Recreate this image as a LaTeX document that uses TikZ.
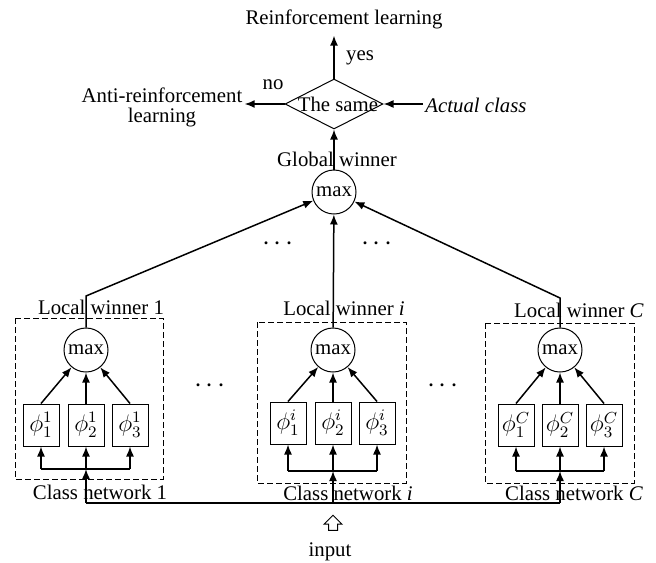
\documentclass[tikz,border=0pt]{standalone}
\usepackage{fontspec}
\setmainfont{Liberation Serif}
\usetikzlibrary{arrows.meta,shapes.geometric,shapes.arrows}
\newcommand\hdotsrow{{\Large$\cdot$\hspace{1.75pt}$\cdot$\hspace{1.75pt}$\cdot$}}
\newcommand\phin[2]{{\fontsize{12}{12}\selectfont$\phi_{#1}^{#2}$}}

\begin{document}
\begin{tikzpicture}[x=0.5pt,y=-0.5pt]
\tikzset{font=\fontsize{10.4}{10}\selectfont}
\tikzset{vertex/.style = {shape=circle,draw,line width=0.5pt,minimum size=22pt,inner sep=0pt}}
\tikzset{phibox/.style = {shape=rectangle,draw,line width=0.5pt,minimum width=18pt,minimum height=21pt,inner sep=0pt}}
\tikzset{decision/.style = {shape=diamond,draw,line width=0.5pt,minimum width=49pt,minimum height=25pt,inner sep=0pt}}
\tikzset{inarrow/.style = {single arrow,draw,line width=0.5pt,shape border rotate=90,minimum height=7.5pt,single arrow head extend=2.2pt,inner sep=2pt}}
\tikzset{group/.style = {draw,line width=0.5pt,dash pattern=on 3pt off 1.5pt}}
\tikzset{edge/.style = {-{Latex[length=5pt,width=4pt]},line width=0.75pt}}
\tikzset{line/.style = {line width=0.75pt}}
\useasboundingbox (0,0) rectangle (656,562);
% decision
\node (rl) at (344,19) {Reinforcement learning};
\node[decision] (s) at (334,104) {\makebox[0pt]{\hspace{4pt}The same}};
\node (yes) at (360,58) {yes};
\node (no) at (273,85) {no};
\node[align=center,inner sep=1pt] (arl) at (162,107) {Anti-reinforcement\\learning};
\node[inner sep=1pt] (ac) at (476,105) {\textit{Actual class}};
\node (gw) at (337,159) {Global winner};
\node[vertex] (g) at (334,192) {max};
\node (d1) at (278,244) {\hdotsrow};
\node (d2) at (377,244) {\hdotsrow};

% class network 1
\node (lw1) at (101,307) {Local winner 1};
\draw[group] (15,318) rectangle (163,479);
\node[vertex] (m1) at (86,350) {max};
\node[phibox] (p11) at (41,425) {\phin{1}{1}};
\node[phibox] (p12) at (86,425) {\phin{2}{1}};
\node[phibox] (p13) at (130,425) {\phin{3}{1}};
\node (cn1) at (100,492) {Class network 1};
\coordinate (b1) at (86,469);
\coordinate (i1) at (86,503);
\coordinate (k1) at (86,296);

% class network i
\node (lw2) at (344,308) {Local winner \textit{i}};
\draw[group] (257,322) rectangle (406,483);
\node[vertex] (m2) at (333,350) {max};
\node[phibox] (p21) at (288,423) {\phin{1}{i}};
\node[phibox] (p22) at (333,423) {\phin{2}{i}};
\node[phibox] (p23) at (377,423) {\phin{3}{i}};
\node (cn2) at (348,493) {Class network \textit{i}};
\coordinate (b2) at (333,471);
\coordinate (i2) at (333,503);

% class network C
\node (lw3) at (579,310) {Local winner \textit{C}};
\draw[group] (485,323) rectangle (634,483);
\node[vertex] (m3) at (560,350) {max};
\node[phibox] (p31) at (516,425) {\phin{1}{C}};
\node[phibox] (p32) at (560,425) {\phin{2}{C}};
\node[phibox] (p33) at (604,425) {\phin{3}{C}};
\node (cn3) at (574,493) {Class network \textit{C}};
\coordinate (b3) at (560,471);
\coordinate (i3) at (560,503);
\coordinate (k3) at (560,298);

\node (d3) at (210,386) {\hdotsrow};
\node (d4) at (443,386) {\hdotsrow};
\node[inarrow] (in) at (333,525) {};
\node (inp) at (330,552) {input};

%edges
\draw[edge] (s.north) -- (s.north |- rl.south);
\draw[edge] (s.west) -- (arl.east |- s.west);
\draw[edge] (ac.west |- s.east) -- (s.east);
\draw[edge] (g) to (s);
\draw[edge] (m1) -- (k1) -- (g);
\draw[edge] (m2) to (g);
\draw[edge] (m3) -- (k3) -- (g);
\draw[line] (i1) -- (i3);

\draw[line] (p11 |- b1) -- (p13 |- b1);
\draw[edge] (p11 |- b1) -- (p11);
\draw[edge] (b1) -- (p12);
\draw[edge] (p13 |- b1) -- (p13);
\draw[edge] (i1) -- (b1);
\draw[edge] (p11.north) -- (m1);
\draw[edge] (p12) -- (m1);
\draw[edge] (p13.north) -- (m1);

\draw[line] (p21 |- b2) -- (p23 |- b2);
\draw[edge] (p21 |- b2) -- (p21);
\draw[edge] (b2) -- (p22);
\draw[edge] (p23 |- b2) -- (p23);
\draw[edge] (i2) -- (b2);
\draw[edge] (p21.north) -- (m2);
\draw[edge] (p22) -- (m2);
\draw[edge] (p23.north) -- (m2);

\draw[line] (p31 |- b3) -- (p33 |- b3);
\draw[edge] (p31 |- b3) -- (p31);
\draw[edge] (b3) -- (p32);
\draw[edge] (p33 |- b3) -- (p33);
\draw[edge] (i3) -- (b3);
\draw[edge] (p31.north) -- (m3);
\draw[edge] (p32) -- (m3);
\draw[edge] (p33.north) -- (m3);
\end{tikzpicture}
\end{document}
